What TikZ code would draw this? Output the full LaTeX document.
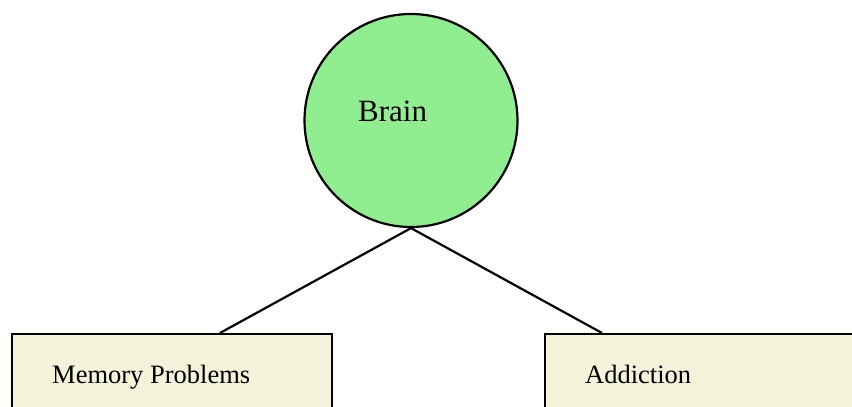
\documentclass[tikz,border=0pt]{standalone}
\usepackage{fontspec}
\setmainfont{Liberation Serif}
\usepackage{tikz}
\usetikzlibrary{positioning}
\definecolor{cgreen}{HTML}{90EE90}
\definecolor{cbeige}{HTML}{F3F3DA}

\begin{document}
\begin{tikzpicture}[
    x=1pt, y=-1pt,
    hub/.style={circle, draw, fill=cgreen, line width=2.2pt, minimum size=213pt, inner sep=0pt},
    leaf/.style={rectangle, draw, fill=cbeige, line width=2.2pt, minimum width=320pt, minimum height=110pt, anchor=north west, inner sep=0pt},
    txt/.style={anchor=base west, inner sep=0pt, font=\fontsize{26.5}{30}\selectfont},
    link/.style={line width=2.2pt},
]
\useasboundingbox (0,0) rectangle (852,407);

% --- central circle ---
\node[hub] (brain) at (411,120.5) {};
\node[txt, font=\fontsize{31}{36}\selectfont] (brainlbl) at (358,121) {Brain};

% --- leaf boxes ---
\node[leaf] (memory) at (11,333) {};
\node[txt] (memorylbl) at (52,383) {Memory Problems};

\node[leaf] (addiction) at (544,333) {};   % runs off the right edge
\node[txt] (addictionlbl) at (585,383) {Addiction};

% connectors
\coordinate (memtop) at (220,333);
\coordinate (addtop) at (602,333);
\draw[link] (brain.south) -- (memtop);
\draw[link] (brain.south) -- (addtop);

\end{tikzpicture}
\end{document}
